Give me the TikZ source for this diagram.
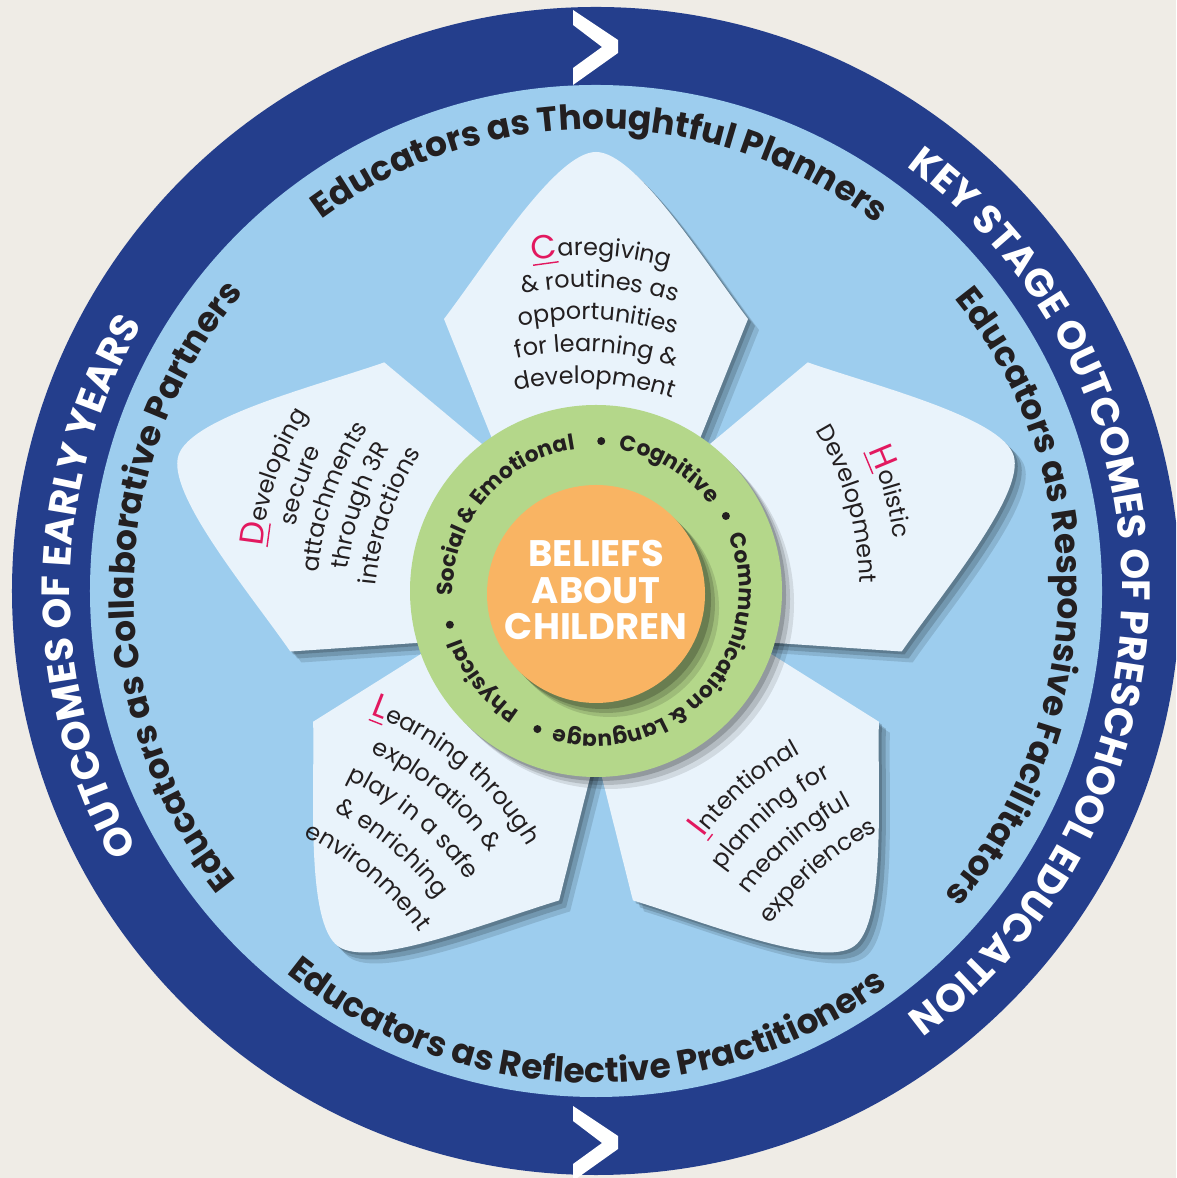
\documentclass[tikz,border=0pt]{standalone}
\usepackage{fontspec}
\setmainfont{Poppins}

\definecolor{paper}{HTML}{EFECE6}
\definecolor{navy}{HTML}{243E8C}
\definecolor{sky}{HTML}{9DCDEE}
\definecolor{petalfill}{HTML}{E9F3FB}
\definecolor{leaf}{HTML}{B4D78A}
\definecolor{apricot}{HTML}{F9B463}
\definecolor{rose}{HTML}{E2185F}
\definecolor{ink}{HTML}{231F20}

% font faces, fixed once so that they also work inside the picture
\newcommand{\keepface}[2]{\begingroup#2\global\expandafter\let\expandafter#1\the\font\endgroup}
\AtBeginDocument{%
  \keepface\petalface{\fontsize{6.8}{8}\selectfont}%
  \keepface\ringface{\bfseries\fontsize{9.8}{11}\selectfont}%
  \keepface\stageface{\bfseries\fontsize{11.2}{12}\selectfont}%
  \keepface\areaface{\bfseries\fontsize{6.2}{8}\selectfont}%
  \keepface\initialface{\fontsize{9.5}{10}\selectfont}}
\newcommand{\petalfont}{\petalface\color{ink}}
\newcommand{\ringfont}{\ringface\color{ink}}
\newcommand{\stagefont}{\stageface\color{white}}
\newcommand{\areafont}{\areaface\color{ink}}
\newcommand{\initial}[1]{\textcolor{rose}{\initialface\underline{#1}}}
% outline of one petal, tip pointing up
\newcommand{\petalpath}{(-95,130) -- (-152,272) .. controls (-108,330) and (-40,439) .. (0,439)
  .. controls (40,439) and (108,330) .. (152,272) -- (95,130) -- cycle}
% one letter on a circle round the origin: angle, rotation, radius, text
\newcommand{\glyphat}[4]{\node[anchor=base,inner sep=0pt,outer sep=0pt,rotate=#2] at (#1:#3) {#4};}

% \arcwords[initial]{font}{radius}{middle angle}{1 = clockwise, -1 = anticlockwise}{text}
\ExplSyntaxOn
\dim_new:N \l__arc_total_dim
\fp_new:N \l__arc_pos_fp
\fp_new:N \l__arc_len_fp
\fp_new:N \l__arc_step_fp
\tl_new:N \l__arc_font_tl
\tl_new:N \l__arc_r_tl
\int_new:N \l__arc_dir_int
\str_new:N \l__arc_text_str
\box_new:N \l__arc_glyph_box
\cs_new_protected:Npn \__arc_box:n #1
  {
    \tl_if_blank:nTF {#1}
      { \hbox_set:Nn \l__arc_glyph_box { \l__arc_font_tl \skip_horizontal:n { \fontdimen 2 \font } } }
      { \hbox_set:Nn \l__arc_glyph_box { \l__arc_font_tl #1 } }
  }
\cs_new_protected:Npn \__arc_measure:n #1
  {
    \__arc_box:n {#1}
    \dim_add:Nn \l__arc_total_dim { \box_wd:N \l__arc_glyph_box }
  }
\cs_new_protected:Npn \__arc_place:n #1
  {
    \__arc_box:n {#1}
    \fp_set:Nn \l__arc_step_fp
      { \int_use:N \l__arc_dir_int * \dim_to_fp:n { \box_wd:N \l__arc_glyph_box } / \l__arc_len_fp * 90 / pi }
    \fp_sub:Nn \l__arc_pos_fp { \l__arc_step_fp }
    \tl_if_blank:nF {#1}
      {
        \exp_args:Nxxx \glyphat
          { \fp_eval:n { \l__arc_pos_fp } }
          { \fp_eval:n { \l__arc_pos_fp - \int_use:N \l__arc_dir_int * 90 } }
          { \l__arc_r_tl }
          { \l__arc_font_tl #1 }
      }
    \fp_sub:Nn \l__arc_pos_fp { \l__arc_step_fp }
  }
\NewDocumentCommand \arcwords { O{} m m m m m }
  {
    \tl_set:Nn \l__arc_font_tl {#2}
    \tl_set:Nn \l__arc_r_tl {#3}
    \int_set:Nn \l__arc_dir_int {#5}
    \str_set:Nn \l__arc_text_str {#6}
    \fp_set:Nn \l__arc_len_fp { #3 * 0.2845276 }
    \dim_zero:N \l__arc_total_dim
    \tl_if_empty:nF {#1} { \__arc_measure:n { \initial {#1} } }
    \str_map_inline:Nn \l__arc_text_str { \__arc_measure:n {##1} }
    \fp_set:Nn \l__arc_pos_fp
      { #4 + \int_use:N \l__arc_dir_int * \dim_to_fp:n { \l__arc_total_dim } / \l__arc_len_fp * 90 / pi }
    \tl_if_empty:nF {#1} { \__arc_place:n { \initial {#1} } }
    \str_map_inline:Nn \l__arc_text_str { \__arc_place:n {##1} }
  }
\ExplSyntaxOff

% one arched line of petal text: [initial], baseline offset, text
\newcommand{\petalline}[3][]{%
  \begin{scope}[shift={(0,#2-300)}]
    \arcwords[#1]{\petalfont}{300}{90}{1}{#3}
  \end{scope}}

\tikzset{
  shadowfill/.style={black,opacity=#1},
  petaltext/.style={transform shape},
}

\begin{document}
\begin{tikzpicture}[x=0.1mm,y=0.1mm]
\useasboundingbox (-596,-587) rectangle (580,591);
\clip (-596,-587) rectangle (580,591);
\fill[paper] (-596,-587) rectangle (580,591);

%% rings
\fill[navy] (0,0) circle[radius=584];
\fill[sky] (0,0) circle[radius=506];
\foreach \cy in {544,-552}
  \fill[white,shift={(0,\cy)}] (-23,37) -- (22,7) -- (22,-6) -- (-23,-38)
    -- (-23,-21) -- (6,0) -- (-23,22) -- cycle;

%% stage outcomes
\arcwords{\stagefont}{526}{0}{1}{KEY STAGE OUTCOMES OF PRESCHOOL EDUCATION}
\arcwords{\stagefont}{526}{179.5}{1}{OUTCOMES OF EARLY YEARS}

%% educator roles
\arcwords{\ringfont}{462}{89.5}{1}{Educators as Thoughtful Planners}
\arcwords{\ringfont}{462}{-1}{1}{Educators as Responsive Facilitators}
\arcwords{\ringfont}{492}{268.7}{-1}{Educators as Reflective Practitioners}
\arcwords{\ringfont}{462}{179.3}{1}{Educators as Collaborative Partners}

%% petals
\foreach \turn in {0,72,144,216,288}
  \foreach \sh/\op in {11/.12,7/.16,3/.18}
    \fill[shadowfill=\op,shift={(\sh,-\sh)},rotate=\turn] \petalpath;
\foreach \turn in {0,72,144,216,288}
  \fill[petalfill,rotate=\turn] \petalpath;

%% petal texts
\begin{scope}[petaltext,shift={(2,271)},rotate=-3]
  \petalline[C]{64}{aregiving}
  \petalline{32}{& routines as}
  \petalline{0}{opportunities}
  \petalline{-32}{for learning &}
  \petalline{-64}{development}
\end{scope}
\begin{scope}[petaltext,shift={(-262,94)},rotate=71]
  \petalline[D]{60}{eveloping}
  \petalline{30}{secure}
  \petalline{0}{attachments}
  \petalline{-30}{through 3R}
  \petalline{-60}{interactions}
\end{scope}
\begin{scope}[petaltext,shift={(270,92)},rotate=-74]
  \petalline[H]{19}{olistic}
  \petalline{-19}{Development}
\end{scope}
\begin{scope}[petaltext,shift={(-182,-231)},rotate=-40]
  \petalline[L]{72}{earning through}
  \petalline{36}{exploration &}
  \petalline{0}{play in a safe}
  \petalline{-36}{& enriching}
  \petalline{-72}{environment}
\end{scope}
\begin{scope}[petaltext,shift={(187,-240)},rotate=41]
  \petalline[I]{54}{ntentional}
  \petalline{18}{planning for}
  \petalline{-18}{meaningful}
  \petalline{-54}{experiences}
\end{scope}

%% learning areas ring
\foreach \sh/\op in {12/.10,8/.14,4/.18}
  \fill[shadowfill=\op] (\sh,-\sh) circle[radius=186];
\fill[leaf] (0,0) circle[radius=186];
\foreach \sh/\op in {14/.12,10/.16,6/.20}
  \fill[shadowfill=\op] (\sh,{-3-\sh}) circle[radius=109];
\fill[apricot] (0,-3) circle[radius=109];
\node[text=white,font=\bfseries\fontsize{10.5}{10.3}\selectfont,align=center]
  (core) at (0,1) {BELIEFS\\ABOUT\\CHILDREN};

\arcwords{\areafont}{143}{140}{1}{Social & Emotional}
\arcwords{\areafont}{143}{59}{1}{Cognitive}
\arcwords{\areafont}{143}{-42}{1}{Communication & Language}
\arcwords{\areafont}{143}{218.5}{1}{Physical}
\foreach \ang in {88,30,-113,193}
  \fill[ink] (\ang:150) circle[radius=4];
\end{tikzpicture}
\end{document}
